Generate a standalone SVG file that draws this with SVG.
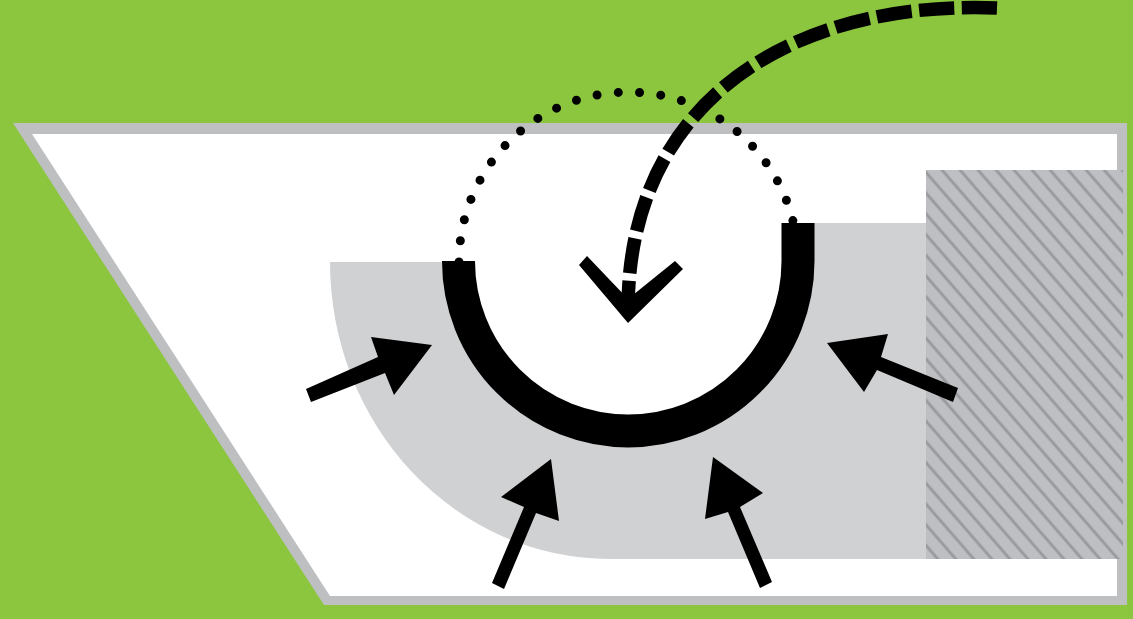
<svg xmlns="http://www.w3.org/2000/svg" width="1133" height="619" viewBox="0 0 1133 619">
<style>
.blk{fill:#000}
.ln{fill:none;stroke:#000}
</style>
<defs>
<pattern id="hatch" patternUnits="userSpaceOnUse" width="13.6" height="20" patternTransform="translate(942,170) rotate(-41)">
<rect width="13.6" height="20" fill="#bdbfc3"/>
<rect x="-1.4" width="2.8" height="20" fill="#98999d"/>
<rect x="12.2" width="2.8" height="20" fill="#98999d"/>
</pattern>
</defs>
<rect id="background" width="1133" height="619" fill="#8cc63f"/>
<g id="block">
<polygon points="13,123 1127,123 1127,605 324,605" fill="#bdbfc1"/>
<polygon points="32,134 1117,134 1117,596 330,596" fill="#fff"/>
<path d="M330,262H458.5A169.75,170 0 0 0 798,261V223H926V559H610A280,297 0 0 1 330,262Z" fill="#cfd1d3"/>
<rect x="926" y="170" width="197" height="389" fill="url(#hatch)"/>
</g>
<g id="connectors">
<path class="ln" d="M459,262A169.5,170 0 0 1 798,262" stroke-width="9" stroke-linecap="round" stroke-dasharray="0 21.35"/>
<path class="ln" d="M458.5,262V261A169.75,170 0 0 0 798,261V223" stroke-width="33"/>
<polygon class="blk" points="587,256 628,299 675,261 683,269 628,323 579,265"/>
<path class="ln" d="M997,8C800,0 628,95 628,310" stroke-width="13.5" stroke-dasharray="35.2 7.5"/>
<polygon class="blk" points="432,345 371,337 378,357 306,389 311,402 385,373 394,395"/>
<polygon class="blk" points="827,343 888,334 881,357 958,388 953,402 877,370 864,392"/>
<polygon class="blk" points="551,459 501,497 524,507 492,583 504,589 536,513 559,521"/>
<polygon class="blk" points="713,457 763,493 740,507 772,582 760,588 728,512 705,519"/>
</g>
</svg>
